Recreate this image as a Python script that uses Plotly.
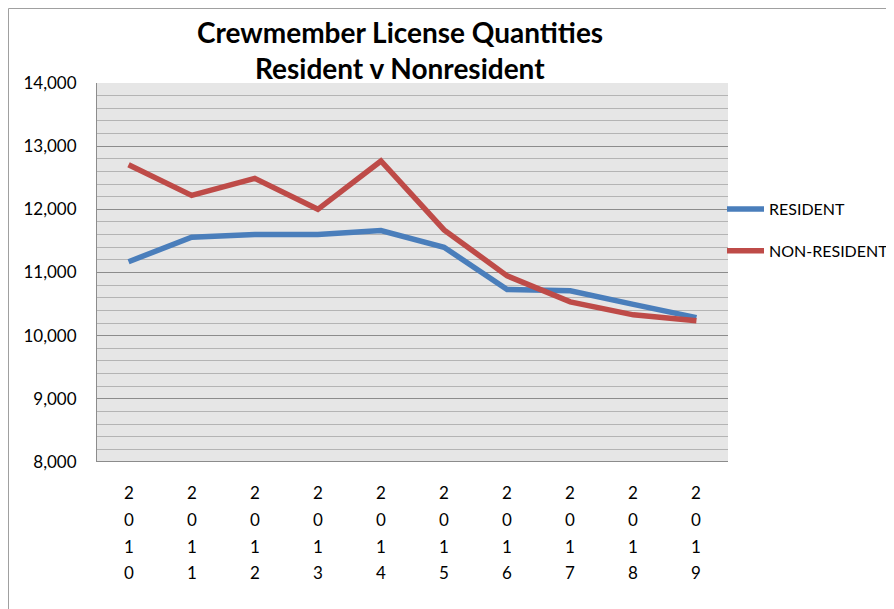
import plotly.graph_objects as go

years = ["2010", "2011", "2012", "2013", "2014", "2015", "2016", "2017", "2018", "2019"]
resident = [11170, 11560, 11600, 11600, 11665, 11400, 10730, 10710, 10495, 10285]
non_resident = [12705, 12220, 12490, 12000, 12766, 11675, 10946, 10535, 10330, 10235]
y_ticks = [8000, 9000, 10000, 11000, 12000, 13000, 14000]
y_tick_labels = ["8,000", "9,000", "10,000", "11,000", "12,000", "13,000", "14,000"]

FONT = "Lato, 'Open Sans', sans-serif"
OFF = 8  # page body margin
W, H = 894, 609
L, T = 97 - OFF, 83 - OFF
R_EDGE, B_EDGE = 728 - OFF, 462 - OFF
PW, PH = R_EDGE - L, B_EDGE - T


def px(sx):
    return (sx - OFF - L) / PW


def py(sy):
    return (B_EDGE - (sy - OFF)) / PH


fig = go.Figure()
fig.add_trace(go.Scatter(x=years, y=resident, mode="lines", name="RESIDENT",
                         line=dict(color="#4A7EBB", width=5.5), legendgroup="a"))
fig.add_trace(go.Scatter(x=years, y=non_resident, mode="lines", name="NON-RESIDENT",
                         line=dict(color="#BE4B48", width=5.5), legendgroup="b"))

fig.update_layout(
    width=W, height=H,
    margin=dict(l=L, r=W - R_EDGE, t=T, b=H - B_EDGE, autoexpand=False),
    paper_bgcolor="white", plot_bgcolor="#E6E6E6",
    font=dict(family=FONT, size=14, color="black"),
    showlegend=True,
    legend=dict(x=px(722), xanchor="left", y=py(192), yanchor="top",
                font=dict(size=16, family=FONT), tracegroupgap=18,
                bgcolor="rgba(0,0,0,0)", itemwidth=37),
    xaxis=dict(type="category", showticklabels=False, showgrid=False,
               zeroline=False, showline=False, range=[-0.5, len(years) - 0.5]),
    yaxis=dict(range=[8000, 14000], tickvals=y_ticks, ticktext=y_tick_labels,
               showgrid=True, gridcolor="#8C8C8C", gridwidth=1,
               minor=dict(dtick=200, showgrid=True, gridcolor="#B4B4B4", gridwidth=1),
               showline=True, linecolor="#8C8C8C", linewidth=1,
               zeroline=False, ticks="", ticklabelstandoff=16,
               tickfont=dict(size=17, family=FONT)),
)

# bottom axis line
fig.add_shape(type="line", xref="paper", yref="y", x0=0, x1=1, y0=8000, y1=8000,
              line=dict(color="#8C8C8C", width=2))
# outer chart border
fig.add_shape(type="rect", xref="paper", yref="paper",
              x0=px(8.5), x1=px(910), y0=py(620), y1=py(8.5),
              line=dict(color="#A0A0A0", width=1), fillcolor="rgba(0,0,0,0)", layer="below")

# title
fig.add_annotation(text="<b>Crewmember License Quantities</b>", xref="paper", yref="paper",
                   x=px(400), y=py(32), showarrow=False,
                   font=dict(size=28, family=FONT), xanchor="center", yanchor="middle")
fig.add_annotation(text="<b>Resident v Nonresident</b>", xref="paper", yref="paper",
                   x=px(400), y=py(68), showarrow=False,
                   font=dict(size=28, family=FONT), xanchor="center", yanchor="middle")

# vertical stacked year labels
row_y = [492, 519, 546, 572]
for idx, yr in enumerate(years):
    for i, ch in enumerate(yr):
        fig.add_annotation(text=ch, x=idx, xref="x", yref="paper",
                           y=py(row_y[i]), showarrow=False,
                           font=dict(size=17, family=FONT),
                           xanchor="center", yanchor="middle")

fig.write_html("out.html")
